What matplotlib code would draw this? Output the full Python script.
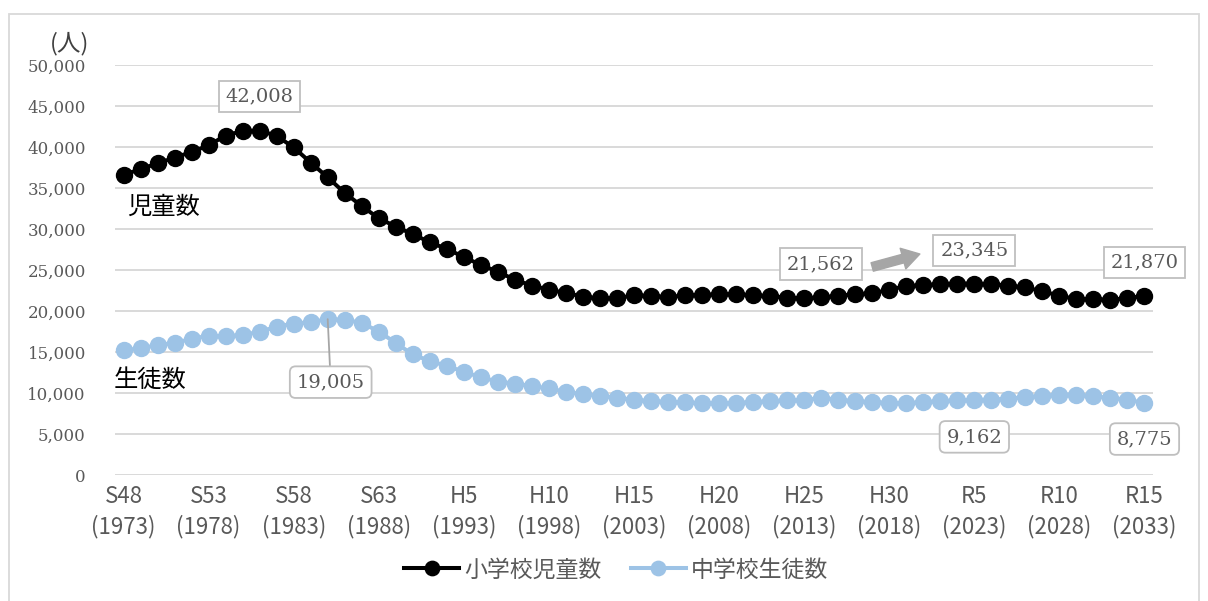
import matplotlib
matplotlib.use('Agg')
import matplotlib.pyplot as plt
from matplotlib.patches import Rectangle

# 年度 (S48=1973 ～ R15=2033)
years = list(range(1973, 2034))
tick_years = list(range(1973, 2034, 5))
tick_labels = ['S48\n(1973)', 'S53\n(1978)', 'S58\n(1983)', 'S63\n(1988)', 'H5\n(1993)',
               'H10\n(1998)', 'H15\n(2003)', 'H20\n(2008)', 'H25\n(2013)', 'H30\n(2018)',
               'R5\n(2023)', 'R10\n(2028)', 'R15\n(2033)']

# 小学校児童数
jido = [36600, 37300, 38000, 38700, 39400, 40200, 41400, 41950, 42008, 41350,
        39950, 38100, 36300, 34400, 32800, 31300, 30300, 29350, 28400, 27550,
        26600, 25600, 24800, 23800, 23100, 22600, 22200, 21750, 21550, 21580,
        21900, 21850, 21700, 21900, 22000, 22030, 22070, 21900, 21850, 21600,
        21562, 21650, 21850, 22050, 22150, 22600, 23050, 23150, 23300, 23350,
        23345, 23280, 23100, 22880, 22400, 21870, 21450, 21450, 21380, 21550,
        21870]

# 中学校生徒数
seito = [15200, 15450, 15850, 16100, 16600, 17000, 16900, 17100, 17450, 18100,
         18450, 18650, 19005, 18950, 18550, 17500, 16100, 14700, 13900, 13300,
         12600, 11900, 11400, 11150, 10850, 10550, 10150, 9850, 9650, 9450,
         9150, 9050, 8900, 8850, 8750, 8750, 8800, 8900, 9000, 9100,
         9150, 9400, 9200, 9000, 8900, 8800, 8750, 8900, 9000, 9100,
         9162, 9200, 9300, 9500, 9650, 9800, 9800, 9600, 9400, 9200,
         8775]

BLUE = '#9DC3E6'
GRAY_TXT = '#595959'
SERIF = 'DejaVu Serif'
JP = ['Noto Sans CJK JP', 'DejaVu Sans']

plt.rcParams['font.family'] = JP

fig = plt.figure(figsize=(12.08, 6.01), dpi=100)
ax = fig.add_axes([115/1208, 1-475/601, (1153-115)/1208, (475-65)/601])

ax.plot(years, jido, color='black', lw=2.9, marker='o', ms=11.5, label='小学校児童数', zorder=3)
ax.plot(years, seito, color=BLUE, lw=2.9, marker='o', ms=11.5, label='中学校生徒数', zorder=3)

ax.set_xlim(1972.5, 2033.5)
ax.set_ylim(0, 50000)
ax.set_yticks(range(0, 50001, 5000))
ax.set_yticklabels([f'{v:,}' for v in range(0, 50001, 5000)], fontfamily=SERIF,
                   fontsize=12, color=GRAY_TXT)
ax.set_xticks(tick_years)
ax.set_xticklabels(tick_labels, fontsize=16, color=GRAY_TXT)
for lab in ax.get_xticklabels():
    lab.set_linespacing(1.4)
ax.tick_params(axis='y', length=0, pad=21)
ax.tick_params(axis='x', length=0, pad=7)
ax.grid(axis='y', color='#d9d9d9', lw=1.4)
ax.set_axisbelow(True)
for s in ax.spines.values():
    s.set_visible(False)

# データラベル
box_sq = dict(boxstyle='square,pad=0.35', fc='white', ec='#bfbfbf', lw=1.3)
box_rd = dict(boxstyle='round,pad=0.35,rounding_size=0.3', fc='white', ec='#bfbfbf', lw=1.3)


def label(x, y, txt, dx, dy, box, line=False):
    ax.annotate(txt, xy=(x, y), xytext=(dx, dy), textcoords='offset pixels',
                ha='center', va='center', fontfamily=SERIF, fontsize=14, color=GRAY_TXT,
                bbox=box, zorder=5,
                arrowprops=dict(arrowstyle='-', color='#a6a6a6', lw=1.3,
                                shrinkA=0, shrinkB=0) if line else None)


label(1981, jido[8], '42,008', 0, 34, box_sq)
label(2013, jido[40], '21,562', 17, 34, box_sq)
label(2023, jido[50], '23,345', 0, 33, box_sq)
label(2033, jido[60], '21,870', 0, 33, box_sq)
label(1985, seito[12], '19,005', 3, -63, box_rd, line=True)
label(2023, seito[50], '9,162', 0, -37, box_rd)
label(2033, seito[60], '8,775', 0, -36, box_rd)

# 増加の矢印
ax.annotate('', xy=(2019.8, 26950), xytext=(2017.0, 25370),
            arrowprops=dict(arrowstyle='simple,head_width=1.1,head_length=0.9,tail_width=0.45',
                            color='#a6a6a6', mutation_scale=14, shrinkA=0, shrinkB=0))

ax.text(1973.2, 32700, '児童数', fontsize=17.5, ha='left', va='center', color='black')
ax.text(1972.4, 11600, '生徒数', fontsize=17.5, ha='left', va='center', color='black')
fig.text(70/1208, 1-44/601, '(人)', fontsize=17, ha='center', va='center', color='#404040')

fig.legend(loc='center', bbox_to_anchor=(616/1208, 1-570/601), ncol=2, frameon=False,
           fontsize=16.5, handlelength=2.4, handletextpad=0.2, columnspacing=1.3,
           labelcolor=GRAY_TXT, markerscale=0.9)

# 外枠
fig.patches.append(Rectangle((9/1208, -0.02), (1199-9)/1208, (601-14)/601+0.02,
                             transform=fig.transFigure, fill=False, ec='#d9d9d9', lw=1.3))

fig.savefig('out.png', dpi=100)
